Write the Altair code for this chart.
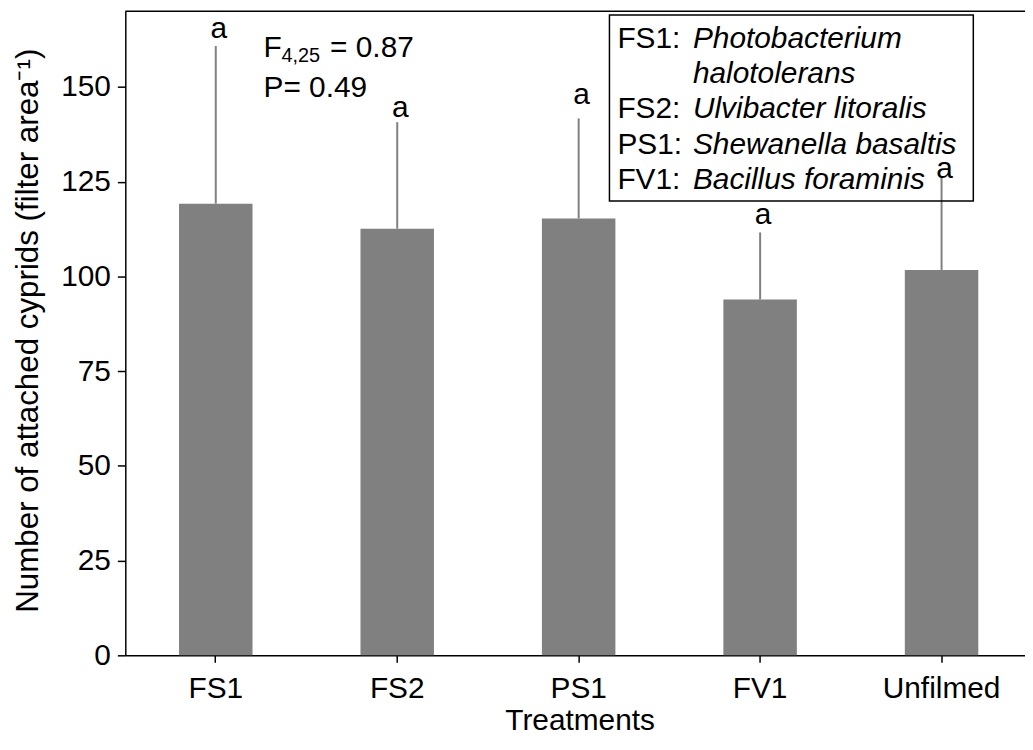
import altair as alt
import pandas as pd

# ---- data ----
categories = ["FS1", "FS2", "PS1", "FV1", "Unfilmed"]
means = [119.2, 112.6, 115.3, 93.9, 101.7]
errors = [41.6, 28.1, 26.4, 17.7, 24.3]
letters = ["a", "a", "a", "a", "a"]
letter_y = [162.9, 142.0, 145.4, 113.7, 126.0]
y_ticks = [0, 25, 50, 75, 100, 125, 150]
y_max = 170

stat_f = ["F", "4,25", "= 0.87"]
stat_p = "P= 0.49"

legend_codes = ["FS1:", "", "FS2:", "PS1:", "FV1:"]
legend_species = ["Photobacterium", "halotolerans", "Ulvibacter litoralis",
                  "Shewanella basaltis", "Bacillus foraminis"]

x_title = "Treatments"
y_title = "Number of attached cyprids (filter area\u207b\u00b9)"

# ---- layout / style ----
FONT = "Liberation Sans"
W, H = 905, 648
GREY = "#808080"

df = pd.DataFrame({"cat": categories, "mean": means, "err": errors,
                   "letter": letters, "ly": letter_y})
df["upper"] = df["mean"] + df["err"]

x_scale = alt.Scale(paddingInner=0.595, paddingOuter=0.2767, align=0.535)
y_scale = alt.Scale(domain=[0, y_max], nice=False, zero=True)

x_axis = alt.Axis(title=x_title, labelAngle=0, tickSize=7, labelPadding=11,
                  titleX=457, titleY=75, titleBaseline="alphabetic")
y_axis = alt.Axis(title=y_title, values=y_ticks, tickSize=8, labelPadding=7,
                  titleX=-88, titleY=321, titleBaseline="alphabetic",
                  titleFontSize=31.5)


def X(field="cat:N"):
    return alt.X(field, sort=categories, scale=x_scale, axis=x_axis)


def Y(field):
    return alt.Y(field, scale=y_scale, axis=y_axis)


bars = alt.Chart(df).mark_bar(color=GREY).encode(x=X(), y=Y("mean:Q"))

err = alt.Chart(df).mark_rule(color=GREY, strokeWidth=2).encode(
    x=X(), y=Y("mean:Q"), y2="upper:Q")

lett = alt.Chart(df).mark_text(fontSize=30, font=FONT, dx=3, baseline="alphabetic",
                               color="black").encode(
    x=X(), y=Y("ly:Q"), text="letter:N")

top_line = alt.Chart(pd.DataFrame({"v": [y_max]})).mark_rule(
    color="black", strokeWidth=1.5).encode(y=Y("v:Q"))


def label(txt, px, py, size=30, style="normal"):
    return alt.Chart(pd.DataFrame({"t": [txt]})).mark_text(
        fontSize=size, font=FONT, fontStyle=style, align="left",
        baseline="alphabetic", color="black").encode(
        text="t:N", x=alt.value(px), y=alt.value(py))


stats = [
    label(stat_f[0], 139, 46),
    label(stat_f[1], 157, 51, size=20),
    label(stat_f[2], 206, 46),
    label(stat_p, 139, 86),
]

box = alt.Chart(pd.DataFrame({"t": [0]})).mark_rect(
    fillOpacity=0, stroke="black", strokeWidth=1.5).encode(
    x=alt.value(487), x2=alt.value(853), y=alt.value(4), y2=alt.value(191))

legend = [box]
for i, (code, sp) in enumerate(zip(legend_codes, legend_species)):
    py = 37 + 35.5 * i
    if code:
        legend.append(label(code, 495, py))
    legend.append(label(sp, 571, py, style="italic"))

chart = alt.layer(bars, err, lett, top_line, *stats, *legend).properties(
    width=W, height=H,
    padding={"left": 118, "top": 1, "right": 0, "bottom": 80},
    autosize=alt.AutoSizeParams(type="none"),
).configure_view(stroke=None).configure_axis(
    labelFont=FONT, titleFont=FONT, labelFontSize=30, titleFontSize=30,
    labelColor="black", titleColor="black", titleFontWeight="normal",
    domainColor="black", tickColor="black", domainWidth=1.5, tickWidth=1.5,
    grid=False,
)

chart.save("out.html", embed_options={"renderer": "svg", "actions": False})
